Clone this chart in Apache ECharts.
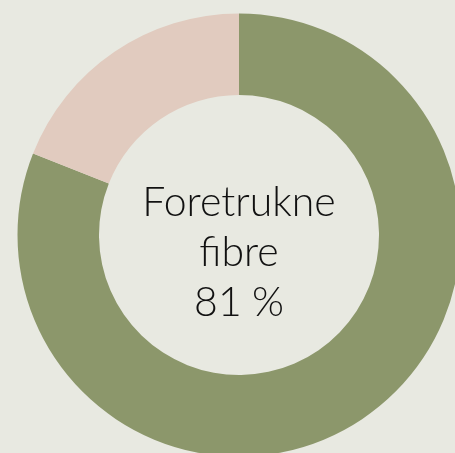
<!DOCTYPE html>
<html>
<head>
<meta charset="utf-8">
<script src="https://cdn.jsdelivr.net/npm/echarts@6/dist/echarts.min.js"></script>
<style>
	html, body { margin: 0; padding: 0; background: #e8e9e1; }
	#chart { width: 455px; height: 453px; }
</style>
</head>
<body>
<div id="chart"></div>
<script>
	var categories = ['Foretrukne fibre', 'Andre'];
	var values = [81, 19];
	var colors = ['#8c976b', '#e1cbbf'];
	var centerLines = ['Foretrukne', 'fibre', '81\u202F%'];

	var chart = echarts.init(document.getElementById('chart'));

	var pieData = [];
	for (var i = 0; i < categories.length; i++) {
		pieData.push({
			name: categories[i],
			value: values[i],
			itemStyle: { color: colors[i] }
		});
	}

	var option = {
		backgroundColor: '#e8e9e1',
		animation: false,
		graphic: [{
			type: 'text',
			x: 239,
			y: 253,
			style: {
				text: centerLines.join('\n'),
				align: 'center',
				verticalAlign: 'middle',
				fontFamily: 'Lato',
				fontWeight: 300,
				fontSize: 41,
				lineHeight: 50,
				fill: '#111111'
			}
		}],
		series: [{
			type: 'pie',
			center: [239, 235],
			radius: [140, 221.5],
			startAngle: 90,
			clockwise: true,
			silent: true,
			label: { show: false },
			labelLine: { show: false },
			itemStyle: { borderWidth: 0 },
			data: pieData
		}]
	};

	chart.setOption(option);
</script>
</body>
</html>
